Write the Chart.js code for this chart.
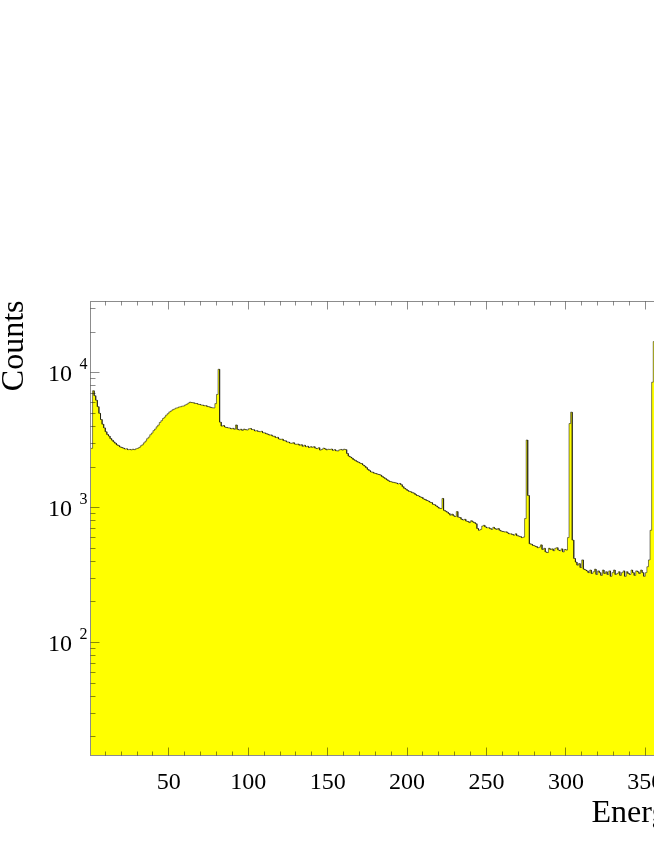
<!DOCTYPE html>
<html>
<head>
<meta charset="utf-8">
<title>Energy spectrum</title>
<script src="https://cdn.jsdelivr.net/npm/chart.js@4.4.0/dist/chart.umd.min.js"></script>
<style>
  html, body { margin: 0; padding: 0; background: #fff; overflow: hidden; }
  #wrap { width: 840px; height: 846px; }
</style>
</head>
<body>
<div id="wrap"><canvas id="spectrum" width="840" height="846"></canvas></div>
<script>
// histogram: 1 keV bins, first bin starts at 1 keV
const binStart = 1;
const binWidth = 1;
const counts = [
  2750, 7350, 6750, 6250, 5600, 5000, 4500, 4150, 3900, 3650,   // 1
  3480, 3390, 3250, 3160, 3070, 3000, 2920, 2880, 2820, 2790,   // 11
  2760, 2720, 2730, 2690, 2700, 2680, 2710, 2690, 2730, 2750,   // 21
  2790, 2870, 2920, 3020, 3110, 3240, 3330, 3470, 3570, 3720,   // 31
  3820, 3970, 4090, 4280, 4410, 4570, 4690, 4850, 4970, 5120,   // 41
  5200, 5310, 5370, 5460, 5490, 5570, 5590, 5650, 5670, 5770,   // 51
  5840, 5960, 6050, 6010, 5990, 5930, 5910, 5850, 5820, 5760,   // 61
  5750, 5690, 5700, 5610, 5590, 5530, 5490, 5480, 5900, 6900,   // 71
  10600, 4300, 4020, 4060, 3960, 3930, 3900, 3890, 3840, 3870,  // 81
  3810, 4100, 3800, 3760, 3810, 3740, 3820, 3780, 3760, 3840,   // 91
  3860, 3790, 3780, 3700, 3720, 3670, 3650, 3680, 3590, 3580,   // 101
  3530, 3500, 3450, 3460, 3390, 3380, 3310, 3320, 3230, 3210,   // 111
  3220, 3140, 3130, 3070, 3060, 3010, 3000, 3030, 2960, 2950,   // 121
  2960, 2900, 2930, 2850, 2900, 2830, 2850, 2790, 2830, 2800,   // 131
  2830, 2760, 2740, 2780, 2670, 2700, 2760, 2730, 2680, 2710,   // 141
  2700, 2720, 2660, 2690, 2640, 2630, 2680, 2700, 2670, 2710,   // 151
  2690, 2520, 2410, 2370, 2330, 2270, 2240, 2200, 2170, 2140,   // 161
  2120, 2070, 2030, 1980, 1920, 1880, 1840, 1830, 1800, 1790,   // 171
  1770, 1760, 1740, 1700, 1670, 1640, 1610, 1580, 1560, 1550,   // 181
  1540, 1530, 1520, 1500, 1510, 1480, 1430, 1390, 1370, 1340,   // 191
  1320, 1310, 1290, 1280, 1250, 1230, 1220, 1200, 1190, 1160,   // 201
  1150, 1130, 1120, 1100, 1090, 1060, 1050, 1030, 1010, 990,    // 211
  985, 1170, 955, 940, 925, 905, 880, 895, 870, 860,            // 221
  935, 850, 845, 820, 810, 820, 795, 790, 775, 800,             // 231
  785, 775, 760, 700, 680, 690, 730, 740, 720, 710,             // 241
  710, 700, 690, 715, 700, 690, 700, 680, 670, 665,             // 251
  660, 662, 650, 640, 640, 632, 625, 640, 620, 615,             // 261
  610, 600, 605, 830, 3170, 1230, 540, 535, 525, 520,           // 271
  515, 505, 510, 530, 490, 500, 470, 465, 500, 490,             // 281
  495, 480, 500, 505, 485, 480, 495, 470, 490, 485,             // 291
  600, 4200, 5100, 575, 420, 395, 375, 385, 360, 410,           // 301
  350, 345, 340, 330, 345, 325, 335, 350, 320, 340,             // 311
  330, 315, 345, 325, 335, 320, 340, 310, 330, 345,             // 321
  320, 325, 335, 315, 330, 340, 310, 335, 325, 320,             // 331
  345, 330, 315, 340, 335, 325, 345, 330, 310, 330,             // 341
  365, 410, 680, 8500, 17000                                    // 351
];

// axis ranges and tick values
const xRange = [1, 426];
const yRange = [14.7, 33400];
const xMajorTicks = [50, 100, 150, 200, 250, 300, 350, 400];
const xMinorStep = 10;
const yDecades = [100, 1000, 10000];
const yMinorTicks = [20, 30, 40, 50, 60, 70, 80, 90,
  200, 300, 400, 500, 600, 700, 800, 900,
  2000, 3000, 4000, 5000, 6000, 7000, 8000, 9000, 20000, 30000];
const xTitle = 'Energy (keV)';
const yTitle = 'Counts';

const serif = "'Liberation Serif', 'Times New Roman', serif";
const frameColor = 'rgba(0, 0, 0, 0.45)';

// build step outline: each bin gives its left and right corner
const histPoints = [];
counts.forEach(function (c, i) {
  const lo = binStart + i * binWidth;
  histPoints.push({ x: lo, y: c }, { x: lo + binWidth, y: c });
});

// ROOT-like frame: ticks inside the box, serif labels, 10^n exponents
const rootFrame = {
  id: 'rootFrame',
  afterDraw(chart) {
    const ctx = chart.ctx;
    const a = chart.chartArea;
    const xs = chart.scales.x;
    const ys = chart.scales.y;
    const L = a.left - 0.5, R = a.right + 0.5, T = a.top - 0.5, B = a.bottom + 0.5;

    ctx.save();
    ctx.strokeStyle = frameColor;
    ctx.lineWidth = 1;
    ctx.strokeRect(L, T, R - L, B - T);

    ctx.beginPath();
    // x ticks, bottom and top
    for (let v = xMinorStep; v < xRange[1]; v += xMinorStep) {
      const px = Math.floor(xs.getPixelForValue(v)) + 0.5;
      const len = xMajorTicks.includes(v) ? 8 : 4;
      ctx.moveTo(px, B); ctx.lineTo(px, B - len);
      ctx.moveTo(px, T); ctx.lineTo(px, T + len);
    }
    // y ticks, left and right
    yDecades.concat(yMinorTicks).forEach(function (v) {
      const py = Math.floor(ys.getPixelForValue(v)) + 0.5;
      const len = yDecades.includes(v) ? 9 : 5;
      ctx.moveTo(L, py); ctx.lineTo(L + len, py);
      ctx.moveTo(R, py); ctx.lineTo(R - len, py);
    });
    ctx.stroke();

    ctx.fillStyle = '#000';
    ctx.textBaseline = 'alphabetic';

    // x tick labels
    ctx.font = '24px ' + serif;
    ctx.textAlign = 'center';
    xMajorTicks.forEach(function (v) {
      ctx.fillText(String(v), xs.getPixelForValue(v), a.bottom + 33.5);
    });

    // y tick labels as 10 with a raised exponent
    yDecades.forEach(function (v) {
      const py = ys.getPixelForValue(v);
      ctx.font = '24px ' + serif;
      ctx.textAlign = 'right';
      ctx.fillText('10', a.left - 19, py + 8.5);
      ctx.font = '16px ' + serif;
      ctx.textAlign = 'left';
      ctx.fillText(String(Math.round(Math.log10(v))), a.left - 11.5, py - 3.5);
    });

    // axis titles, right-aligned at the end of each axis
    ctx.font = '32px ' + serif;
    ctx.textAlign = 'right';
    ctx.fillText(xTitle, a.right, a.bottom + 67);

    ctx.translate(22.5, a.top - 1.5);
    ctx.rotate(-Math.PI / 2);
    ctx.fillText(yTitle, 0, 0);
    ctx.restore();
  }
};

new Chart(document.getElementById('spectrum'), {
  type: 'line',
  data: {
    datasets: [{
      label: yTitle,
      data: histPoints,
      borderColor: 'rgba(0, 0, 0, 0.5)',
      borderWidth: 1,
      backgroundColor: '#ffff00',
      fill: 'start',
      pointRadius: 0,
      tension: 0
    }]
  },
  options: {
    responsive: false,
    devicePixelRatio: 1,
    animation: false,
    layout: { padding: { left: 91, top: 302, right: 74, bottom: 91 } },
    scales: {
      x: { type: 'linear', min: xRange[0], max: xRange[1], display: false },
      y: { type: 'logarithmic', min: yRange[0], max: yRange[1], display: false }
    },
    plugins: {
      legend: { display: false },
      tooltip: { enabled: false }
    }
  },
  plugins: [rootFrame]
});
</script>
</body>
</html>
